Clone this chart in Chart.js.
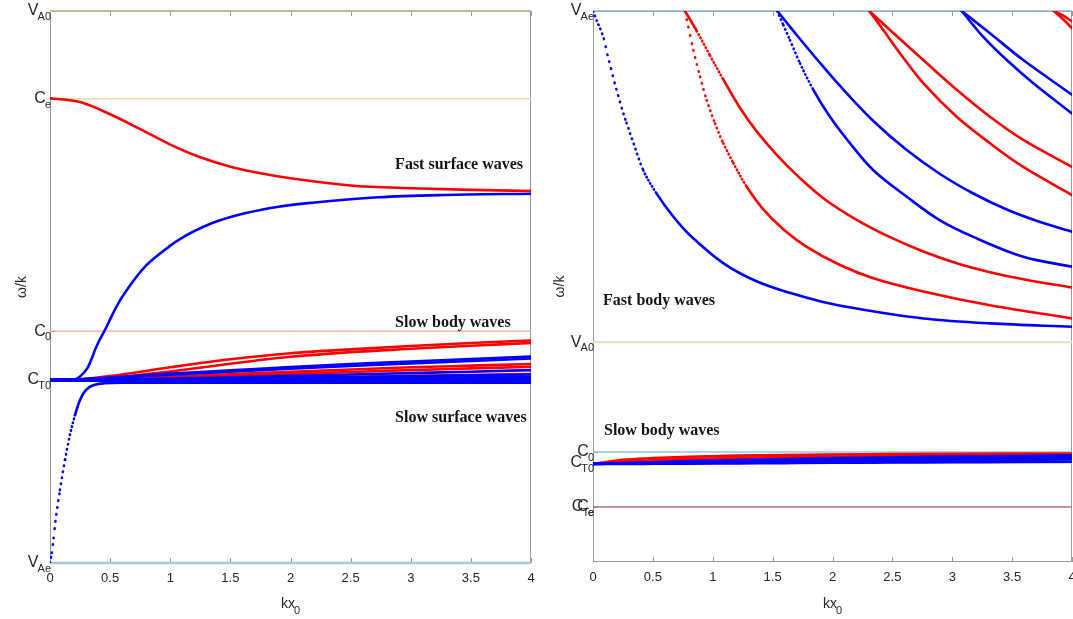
<!DOCTYPE html>
<html>
<head>
<meta charset="utf-8">
<title>Slab dispersion diagrams</title>
<script src="https://cdn.jsdelivr.net/npm/chart.js@4.4.1/dist/chart.umd.min.js"></script>
<style>
  html, body { margin: 0; padding: 0; background: #fff; overflow: hidden; }
  #wrap { position: relative; width: 1073px; height: 619px; overflow: hidden; }
  canvas { position: absolute; top: 0; }
  #leftChart { left: 0; }
  #rightChart { left: 537px; }
</style>
</head>
<body>
<div id="wrap">
  <canvas id="leftChart" width="537" height="619"></canvas>
  <canvas id="rightChart" width="546" height="619"></canvas>
</div>
<script>
// kx0 axis
const kxTicks = [0, 0.5, 1, 1.5, 2, 2.5, 3, 3.5, 4];

// characteristic speeds, omega/k normalised to each panel's range
const leftSpeedNames = ['V_A0', 'C_e', 'C_0', 'C_T0', 'V_Ae'];
const leftSpeeds = [1.0, 0.841, 0.420, 0.332, 0.0];
const rightSpeedNames = ['V_Ae', 'V_A0', 'C_0', 'C_T0', 'C_e', 'C_Te'];
const rightSpeeds = [1.0, 0.399, 0.1996, 0.1797, 0.1000, 0.0998];

// ---- left panel: surface + slow body modes ----
const kxFast = [0, 0.25, 0.5, 0.75, 1, 1.25, 1.5, 1.75, 2, 2.5, 3, 3.5, 4];
const fastSurfaceRed = [0.842, 0.835, 0.813, 0.786, 0.758, 0.735, 0.718, 0.706, 0.697, 0.684, 0.679, 0.676, 0.674];

const fastSurfaceBlue = [
  [0, 0.3315], [0.15, 0.332], [0.2, 0.3325], [0.25, 0.338], [0.29, 0.347], [0.318, 0.3556],
  [0.35, 0.372], [0.374, 0.3859], [0.41, 0.403], [0.457, 0.4221], [0.51, 0.446], [0.568, 0.4705],
  [0.679, 0.5067], [0.79, 0.5368], [0.9, 0.558], [1.067, 0.5851], [1.345, 0.6154], [1.62, 0.6335],
  [1.9, 0.6455], [2.18, 0.6527], [2.73, 0.6625], [3.28, 0.6667], [4, 0.669]
];

const slowSurfaceBlue = [
  [0, 0], [0.015, 0.018], [0.03, 0.045], [0.045, 0.075], [0.083, 0.132], [0.125, 0.187],
  [0.166, 0.232], [0.208, 0.268], [0.249, 0.295], [0.29, 0.311], [0.33, 0.319], [0.374, 0.323],
  [0.45, 0.3255], [0.6, 0.3265], [4, 0.3266]
];

const kxSlow = [0, 0.25, 0.5, 1, 1.5, 2, 2.5, 3, 3.5, 4];
const slowRedA = [0.3315, 0.333, 0.3385, 0.3545, 0.369, 0.380, 0.387, 0.393, 0.3985, 0.4031];
const slowRedB = [0.3315, 0.332, 0.335, 0.347, 0.361, 0.3735, 0.382, 0.388, 0.3935, 0.3986];
const slowBlueC = [0.3315, 0.333, 0.336, 0.343, 0.349, 0.355, 0.3605, 0.365, 0.3695, 0.3740];
const slowBlueC2 = [0.3315, 0.3325, 0.335, 0.341, 0.3465, 0.352, 0.357, 0.3615, 0.366, 0.3705];
const slowRedD = [0.3315, 0.332, 0.3335, 0.3375, 0.342, 0.3465, 0.3505, 0.3545, 0.3575, 0.3605];
const slowRedE = [0.3315, 0.3315, 0.333, 0.336, 0.3395, 0.343, 0.346, 0.3495, 0.3525, 0.3555];
const slowBlueF = [0.3315, 0.3315, 0.332, 0.334, 0.3365, 0.339, 0.3415, 0.344, 0.3465, 0.3495];
const slowRedG = [0.3315, 0.3315, 0.332, 0.333, 0.3345, 0.336, 0.3375, 0.339, 0.3405, 0.3425];
const slowBlueH = [0.3315, 0.3315, 0.332, 0.3328, 0.334, 0.3353, 0.3368, 0.3383, 0.340, 0.3415];
const slowBlueI = [0.3315, 0.3312, 0.3312, 0.3318, 0.3325, 0.3333, 0.3343, 0.3353, 0.3363, 0.3375];
const slowBlueJ = [0.3315, 0.331, 0.3305, 0.3305, 0.3308, 0.3313, 0.3318, 0.3323, 0.3328, 0.3335];
const slowBlueK = [0.3315, 0.3305, 0.330, 0.330, 0.330, 0.330, 0.330, 0.330, 0.330, 0.330];

// ---- right panel: fast body modes (cut off at V_Ae) + slow body modes ----
const bodyBlue1 = [
  [0, 1.0], [0.03, 0.983], [0.06, 0.968], [0.09, 0.950], [0.12, 0.921], [0.15, 0.896], [0.18, 0.870],
  [0.21, 0.847], [0.24, 0.824], [0.28, 0.797], [0.34, 0.759], [0.42, 0.711], [0.53, 0.669], [0.67, 0.627],
  [0.81, 0.593], [1.09, 0.542], [1.37, 0.509], [1.65, 0.488], [1.92, 0.472], [2.2, 0.460], [2.76, 0.442],
  [3.32, 0.433], [4.0, 0.427]
];
const bodyRed2a = [
  [0.768, 1.0], [0.796, 0.9715], [0.838, 0.929], [0.894, 0.881], [0.95, 0.838], [1.019, 0.796],
  [1.088, 0.760], [1.172, 0.724], [1.284, 0.681], [1.422, 0.640], [1.589, 0.604], [1.785, 0.572],
  [2.063, 0.539], [2.341, 0.515], [2.758, 0.491], [3.315, 0.466], [4.0, 0.442]
];
const bodyRed2b = [
  [0.768, 1.0], [0.866, 0.9639], [0.977, 0.9192], [1.088, 0.8759], [1.228, 0.824], [1.367, 0.7815],
  [1.534, 0.739], [1.729, 0.6966], [1.923, 0.6603], [2.202, 0.6209], [2.48, 0.5895], [2.758, 0.5635],
  [3.037, 0.5423], [3.315, 0.526], [3.593, 0.5132], [4.0, 0.4982]
];
const bodyBlue3a = [
  [1.539, 1.0], [1.589, 0.9746], [1.645, 0.947], [1.729, 0.905], [1.84, 0.857], [1.979, 0.808],
  [2.146, 0.760], [2.341, 0.711], [2.62, 0.663], [2.898, 0.620], [3.176, 0.590], [3.593, 0.554], [4.0, 0.536]
];
const bodyBlue3b = [
  [1.539, 1.0], [1.6, 0.9837], [1.701, 0.9564], [1.868, 0.9129], [2.063, 0.8639], [2.341, 0.8004],
  [2.62, 0.7477], [2.898, 0.7042], [3.176, 0.6688], [3.455, 0.6397], [3.733, 0.6171], [4.0, 0.5995]
];
const bodyRed4a = [[2.307, 1.0], [2.424, 0.9655], [2.564, 0.923], [2.758, 0.869], [3.037, 0.808], [3.315, 0.760], [3.593, 0.717], [4.0, 0.666]];
const bodyRed4b = [[2.307, 1.0], [2.48, 0.9655], [2.758, 0.911], [3.037, 0.857], [3.315, 0.808], [3.593, 0.766], [4.0, 0.717]];
const bodyBlue5a = [[3.079, 1.0], [3.259, 0.953], [3.455, 0.911], [3.677, 0.869], [4.0, 0.814]];
const bodyBlue5b = [[3.079, 1.0], [3.315, 0.9595], [3.593, 0.911], [4.0, 0.848]];
const bodyRed6a = [[3.85, 1.0], [3.93, 0.984], [4.0, 0.969]];
const bodyRed6b = [[3.85, 1.0], [3.93, 0.991], [4.0, 0.981]];

const kxSlowR = [0, 0.25, 0.5, 0.8, 1.2, 1.6, 2, 2.5, 3, 3.5, 4];
const slowRRed1 = [0.178, 0.1855, 0.1885, 0.1910, 0.1930, 0.1942, 0.1950, 0.1958, 0.1963, 0.1967, 0.1970];
const slowRRed2 = [0.178, 0.182, 0.1845, 0.187, 0.189, 0.1905, 0.1915, 0.1925, 0.1932, 0.1938, 0.1942];
const slowRBlue1 = [0.178, 0.1795, 0.181, 0.183, 0.185, 0.1868, 0.1885, 0.190, 0.1913, 0.1925, 0.1935];
const slowRBlue2 = [0.178, 0.179, 0.180, 0.1812, 0.1828, 0.1842, 0.1855, 0.1868, 0.188, 0.189, 0.190];
const slowRBlue3 = [0.178, 0.1785, 0.179, 0.1798, 0.1808, 0.1818, 0.1828, 0.1838, 0.1846, 0.1854, 0.1862];
const slowRBlue4 = [0.178, 0.178, 0.1782, 0.1785, 0.179, 0.1795, 0.180, 0.1805, 0.181, 0.1815, 0.182];

// text labels placed in data coordinates (left edge, baseline)
const leftNotes = [
  { text: 'Fast surface waves', x: 2.87, y: 0.714 },
  { text: 'Slow body waves', x: 2.87, y: 0.4275 },
  { text: 'Slow surface waves', x: 2.87, y: 0.2554 }
];
const rightNotes = [
  { text: 'Fast body waves', x: 0.084, y: 0.466 },
  { text: 'Slow body waves', x: 0.092, y: 0.2305 }
];

const RED = '#ff0000';
const BLUE = '#0000ff';
const SANS = '"Liberation Sans Narrow", "Liberation Sans", Arial, sans-serif';
const SERIF = '"Liberation Serif", "DejaVu Serif", serif';
const INK = '#262626';

const leftRefColors = ['#aec394', '#f6d9a6', '#f2a58e', '#c9c9e8', '#a8c9d6'];
const leftRefWidths = [2, 1.5, 1.2, 1, 2.5];
const rightRefColors = ['#8ab6d6', '#d6e5c2', '#8cc7ea', '#c9c9e8', '#b07896', '#a86a8c'];
const rightRefWidths = [1.5, 2, 1.5, 1, 1, 1.2];

const zip = (xs, ys) => xs.map((x, i) => [x, ys[i]]);

// sparse markers show up where the branch is steep: emulate with round dots
function steepDash(ctx, step) {
  const dx = Math.abs(ctx.p1.x - ctx.p0.x);
  const dy = Math.abs(ctx.p1.y - ctx.p0.y);
  const gap = step * Math.hypot(dx, dy) / Math.max(dx, 0.01);
  return gap > 3.6 ? [0.5, gap - 0.5] : undefined;
}

function curve(points, color, step, smooth) {
  const ds = {
    data: points.map(([x, y]) => ({ x, y })),
    borderColor: color,
    borderWidth: 2.6,
    pointRadius: 0,
    borderCapStyle: 'round',
    borderJoinStyle: 'round',
    order: color === RED ? 2 : 1,
    segment: { borderDash: ctx => steepDash(ctx, step) }
  };
  if (smooth) ds.tension = 0.35;
  else ds.cubicInterpolationMode = 'monotone';
  return ds;
}

function refLines(values, colors, widths) {
  return values.map((v, i) => ({
    data: [{ x: 0, y: v }, { x: 4, y: v }],
    borderColor: colors[i],
    borderWidth: widths[i],
    pointRadius: 0,
    order: 3,
    clip: false
  }));
}

function drawSub(ctx, text, x, y, big, small, align) {
  const [main, sub] = text.split('_');
  ctx.font = big + 'px ' + SANS;
  const wMain = ctx.measureText(main).width;
  ctx.font = small + 'px ' + SANS;
  const wSub = sub ? ctx.measureText(sub).width : 0;
  const kern = sub ? -1 : 0;
  const total = wMain + kern + wSub;
  const x0 = align === 'right' ? x - total : x - total / 2;
  ctx.textAlign = 'left';
  ctx.font = big + 'px ' + SANS;
  ctx.fillText(main, x0, y);
  if (sub) {
    ctx.font = small + 'px ' + SANS;
    ctx.fillText(sub, x0 + wMain + kern, y + 6);
  }
}

const decor = {
  id: 'decor',
  beforeDatasetsDraw(chart, args, opts) {
    const { ctx, chartArea: a, scales: { x, y } } = chart;
    ctx.save();
    ctx.strokeStyle = '#9a9a9a';
    ctx.lineWidth = 1;
    ctx.beginPath();
    ctx.rect(Math.round(a.left) + 0.5, Math.round(a.top) + 0.5,
             Math.round(a.right - a.left) - 1, Math.round(a.bottom - a.top) - 1);
    ctx.stroke();
    // ticks point inwards, top and bottom
    ctx.beginPath();
    kxTicks.forEach(v => {
      const px = Math.round(x.getPixelForValue(v)) + 0.5;
      ctx.moveTo(px, a.bottom); ctx.lineTo(px, a.bottom - 5);
      ctx.moveTo(px, a.top); ctx.lineTo(px, a.top + 5);
    });
    opts.values.forEach(v => {
      const py = Math.round(y.getPixelForValue(v)) + 0.5;
      ctx.moveTo(a.left, py); ctx.lineTo(a.left + 5, py);
    });
    ctx.stroke();
    ctx.restore();
  },
  afterDraw(chart, args, opts) {
    const { ctx, chartArea: a, scales: { x, y } } = chart;
    ctx.save();
    ctx.fillStyle = INK;
    ctx.textBaseline = 'middle';
    // speed labels on the omega/k axis
    opts.names.forEach((name, i) => {
      drawSub(ctx, name, a.left + 1, y.getPixelForValue(opts.values[i]), 16, 11, 'right');
    });
    // axis titles
    ctx.textBaseline = 'alphabetic';
    drawSub(ctx, 'kx_0', (a.left + a.right) / 2, 608, 14, 11, 'center');
    ctx.save();
    ctx.translate(opts.titleX, (a.top + a.bottom) / 2);
    ctx.rotate(-Math.PI / 2);
    ctx.font = '14px ' + SANS;
    ctx.textAlign = 'center';
    ctx.textBaseline = 'middle';
    ctx.fillText('\u03c9/k', 0, 0);
    ctx.restore();
    // mode annotations
    ctx.fillStyle = '#141414';
    ctx.font = 'bold 16px ' + SERIF;
    ctx.textAlign = 'left';
    ctx.textBaseline = 'alphabetic';
    opts.notes.forEach(n => ctx.fillText(n.text, x.getPixelForValue(n.x), y.getPixelForValue(n.y)));
    ctx.restore();
  }
};

function makeChart(id, datasets, pad, yWidth, xHeight, decorOpts) {
  return new Chart(document.getElementById(id), {
    type: 'line',
    data: { datasets },
    plugins: [decor],
    options: {
      responsive: false,
      animation: false,
      devicePixelRatio: 1,
      layout: { padding: pad },
      plugins: { legend: { display: false }, tooltip: { enabled: false }, decor: decorOpts },
      scales: {
        x: {
          type: 'linear', min: 0, max: 4,
          afterBuildTicks: s => { s.ticks = kxTicks.map(v => ({ value: v })); },
          afterFit: s => { s.height = xHeight; s.paddingLeft = 0; s.paddingRight = 0; },
          grid: { display: false, drawTicks: false },
          border: { display: false },
          ticks: {
            padding: 8,
            color: INK,
            font: { family: SANS, size: 13 },
            maxRotation: 0,
            callback: v => String(v)
          }
        },
        y: {
          type: 'linear', min: 0, max: 1,
          afterFit: s => { s.width = yWidth; },
          grid: { display: false, drawTicks: false },
          border: { display: false },
          ticks: { display: false }
        }
      }
    }
  });
}

const leftSets = [
  ...refLines(leftSpeeds, leftRefColors, leftRefWidths),
  curve(zip(kxFast, fastSurfaceRed), RED, 1),
  curve(fastSurfaceBlue, BLUE, 1),
  curve(slowSurfaceBlue, BLUE, 1),
  curve(zip(kxSlow, slowRedA), RED, 1),
  curve(zip(kxSlow, slowRedB), RED, 1),
  curve(zip(kxSlow, slowRedD), RED, 1),
  curve(zip(kxSlow, slowRedE), RED, 1),
  curve(zip(kxSlow, slowRedG), RED, 1),
  curve(zip(kxSlow, slowBlueC), BLUE, 1),
  curve(zip(kxSlow, slowBlueC2), BLUE, 1),
  curve(zip(kxSlow, slowBlueF), BLUE, 1),
  curve(zip(kxSlow, slowBlueH), BLUE, 1),
  curve(zip(kxSlow, slowBlueI), BLUE, 1),
  curve(zip(kxSlow, slowBlueJ), BLUE, 1),
  curve(zip(kxSlow, slowBlueK), BLUE, 1)
];

const rightSets = [
  ...refLines(rightSpeeds, rightRefColors, rightRefWidths),
  curve(bodyBlue1, BLUE, 1.8, true),
  curve(bodyRed2a, RED, 1.8, true),
  curve(bodyRed2b, RED, 1.8, true),
  curve(bodyBlue3a, BLUE, 1.8, true),
  curve(bodyBlue3b, BLUE, 1.8, true),
  curve(bodyRed4a, RED, 1.8, true),
  curve(bodyRed4b, RED, 1.8, true),
  curve(bodyBlue5a, BLUE, 1.8, true),
  curve(bodyBlue5b, BLUE, 1.8, true),
  curve(bodyRed6a, RED, 1.8, true),
  curve(bodyRed6b, RED, 1.8, true),
  curve(zip(kxSlowR, slowRRed1), RED, 1.8),
  curve(zip(kxSlowR, slowRRed2), RED, 1.8),
  curve(zip(kxSlowR, slowRBlue1), BLUE, 1.8),
  curve(zip(kxSlowR, slowRBlue2), BLUE, 1.8),
  curve(zip(kxSlowR, slowRBlue3), BLUE, 1.8),
  curve(zip(kxSlowR, slowRBlue4), BLUE, 1.8)
];

makeChart('leftChart', leftSets, { top: 11, right: 6, left: 0, bottom: 0 }, 50, 56,
  { names: leftSpeedNames, values: leftSpeeds, notes: leftNotes, titleX: 22 });
makeChart('rightChart', rightSets, { top: 11, right: 11, left: 0, bottom: 0 }, 56, 57,
  { names: rightSpeedNames, values: rightSpeeds, notes: rightNotes, titleX: 23 });
</script>
</body>
</html>
